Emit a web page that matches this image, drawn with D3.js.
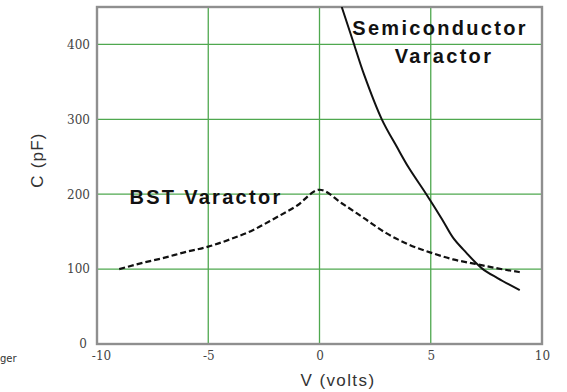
<!DOCTYPE html>
<html>
<head>
<meta charset="utf-8">
<script src="https://cdn.jsdelivr.net/npm/d3@7"></script>
<style>
html,body{margin:0;padding:0;background:#fff;}
svg{display:block;}
</style>
</head>
<body>
<svg id="chart" width="567" height="392"></svg>
<script>
const xTicks = [-10, -5, 0, 5, 10];
const yTicks = [0, 100, 200, 300, 400];

const bstV = [-9, -8, -7, -6, -5, -4, -3, -2, -1, 0, 1, 2, 3, 4, 5, 6, 7, 8, 9];
const bstC = [100, 108, 115, 123, 130, 140, 152, 168, 185, 206, 188, 168, 148, 133, 122, 113, 107, 101, 96];

const semiV = [1.0, 1.5, 2.0, 2.8, 3.5, 4.0, 4.8, 5.5, 6.0, 6.5, 7.3, 8.0, 9.0];
const semiC = [450, 405, 360, 300, 262, 236, 200, 167, 142, 125, 101, 88, 72];

const svg = d3.select("#chart");
const L = 97, R = 542, T = 7, B = 344;
const x = d3.scaleLinear().domain([-10, 10]).range([L, R]);
const y = d3.scaleLinear().domain([0, 450]).range([B, T]);

svg.append("defs").append("clipPath").attr("id", "plotclip")
  .append("rect").attr("x", L).attr("y", T).attr("width", R - L).attr("height", B - T);

// grid
const grid = svg.append("g");
grid.selectAll(".vg").data(xTicks.filter(d => d > -10 && d < 10)).enter().append("line")
  .attr("x1", d => x(d)).attr("x2", d => x(d)).attr("y1", T).attr("y2", B)
  .attr("stroke", "#4fa84f").attr("stroke-width", 1.3);
grid.selectAll(".hg").data(yTicks.filter(d => d > 0)).enter().append("line")
  .attr("x1", L).attr("x2", R).attr("y1", d => y(d)).attr("y2", d => y(d))
  .attr("stroke", "#4fa84f").attr("stroke-width", 1.3);

// frame
svg.append("rect").attr("x", L).attr("y", T).attr("width", R - L).attr("height", B - T)
  .attr("fill", "none").attr("stroke", "#8f8f8f").attr("stroke-width", 2.4);

// axes text via d3 axes
const xAxis = d3.axisBottom(x).tickValues(xTicks).tickSize(0).tickPadding(7)
  .tickFormat(d => String(d));
const gx = svg.append("g").attr("transform", `translate(0,${B})`).call(xAxis);
gx.select(".domain").remove();
gx.selectAll("text").attr("font-family", "DejaVu Serif, serif").attr("font-size", 12).attr("fill", "#444")
  .attr("dx", d => d === -10 ? 4 : 0);

const yAxis = d3.axisLeft(y).tickValues(yTicks).tickSize(0).tickPadding(7)
  .tickFormat(d => String(d));
const gy = svg.append("g").attr("transform", `translate(${L},0)`).call(yAxis);
gy.select(".domain").remove();
gy.selectAll("text").attr("font-family", "DejaVu Serif, serif").attr("font-size", 12).attr("fill", "#444")
  .attr("dx", d => d === 0 ? -3 : 0);

// lines
const line = d3.line().x(d => x(d[0])).y(d => y(d[1])).curve(d3.curveMonotoneX);
const plot = svg.append("g").attr("clip-path", "url(#plotclip)");
plot.append("path").datum(bstV.map((v, i) => [v, bstC[i]]))
  .attr("d", line).attr("fill", "none").attr("stroke", "#111").attr("stroke-width", 2.2)
  .attr("stroke-dasharray", "6,3");
plot.append("path").datum(semiV.map((v, i) => [v, semiC[i]]))
  .attr("d", d3.line().x(d => x(d[0])).y(d => y(d[1])).curve(d3.curveCatmullRom))
  .attr("fill", "none").attr("stroke", "#111").attr("stroke-width", 2);

// annotations
function addText(t, xx, yy, anchor) {
  return svg.append("text").attr("x", xx).attr("y", yy).attr("text-anchor", anchor)
    .attr("font-family", "Liberation Sans, Arial, sans-serif").attr("font-weight", "bold")
    .attr("font-size", 20).attr("letter-spacing", 2.3).attr("fill", "#111").text(t);
}
addText("Semiconductor", 440, 35, "middle");
addText("Varactor", 444, 63, "middle");
addText("BST Varactor", 206, 204, "middle");

// axis titles
svg.append("text").attr("x", 338).attr("y", 386).attr("text-anchor", "middle")
  .attr("font-family", "Liberation Sans, Arial, sans-serif").attr("font-size", 17).attr("letter-spacing", 1.4).attr("fill", "#333")
  .text("V (volts)");
svg.append("text").attr("transform", "translate(43,160) rotate(-90)").attr("text-anchor", "middle")
  .attr("font-family", "Liberation Sans, Arial, sans-serif").attr("font-size", 17).attr("letter-spacing", 1.2).attr("fill", "#333")
  .text("C (pF)");

// stray caption fragment
svg.append("text").attr("x", 0).attr("y", 362)
  .attr("font-family", "DejaVu Sans, sans-serif").attr("font-size", 10).attr("fill", "#333")
  .text("ger");
</script>
</body>
</html>
